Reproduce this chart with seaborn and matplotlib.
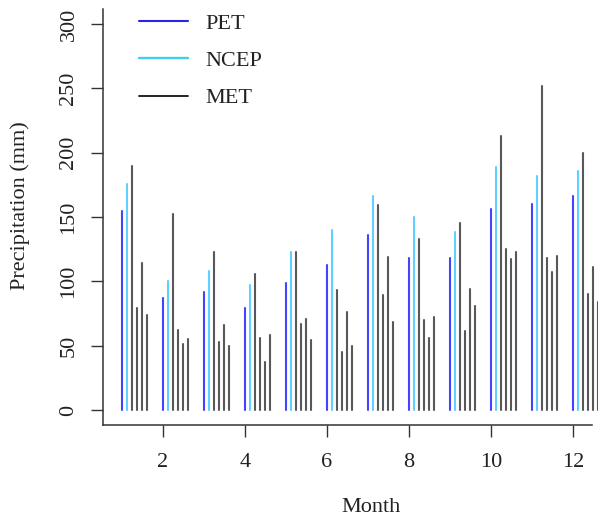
import numpy as np
import pandas as pd
import matplotlib
matplotlib.use("Agg")
import matplotlib.pyplot as plt
import seaborn as sns
from matplotlib.lines import Line2D

months = list(range(1, 13))
PET = [155, 87, 92, 79, 99, 113, 136, 118, 118, 156, 160, 166]
NCEP = [176, 100, 108, 97, 123, 140, 166, 150, 138, 189, 182, 186]
MET1 = [190, 152, 123, 106, 123, 93, 159, 133, 145, 213, 252, 200]
MET2 = [79, 62, 53, 56, 67, 45, 89, 70, 61, 125, 118, 90]
MET3 = [114, 51, 66, 37, 71, 76, 119, 56, 94, 117, 107, 111]
MET4 = [74, 55, 50, 58, 54, 50, 68, 72, 81, 123, 120, 84]
x_ticks = [2, 4, 6, 8, 10, 12]
y_ticks = [0, 50, 100, 150, 200, 250, 300]

series = {"PET": PET, "NCEP": NCEP, "MET1": MET1, "MET2": MET2,
          "MET3": MET3, "MET4": MET4}
offsets = {"PET": 0.0, "NCEP": 0.125, "MET1": 0.25, "MET2": 0.375,
           "MET3": 0.5, "MET4": 0.625}
colors = {"PET": "#4444ff", "NCEP": "#5fd0ff", "MET1": "#585858",
          "MET2": "#585858", "MET3": "#585858", "MET4": "#585858"}

rows = []
uid = 0
for name, vals in series.items():
    for m, v in zip(months, vals):
        xpos = m + offsets[name]
        rows.append({"x": xpos, "y": 0.0, "series": name, "unit": uid})
        rows.append({"x": xpos, "y": v, "series": name, "unit": uid})
        uid += 1
df = pd.DataFrame(rows)

sns.set_style("white")
plt.rcParams["font.family"] = ["Liberation Serif", "DejaVu Serif"]

W, H = 598, 520
fig = plt.figure(figsize=(W / 100, H / 100), dpi=100)
ax_left, ax_right = 102.9, 612.1
ax_top, ax_bot = 8.6, 425.4
ax = fig.add_axes([ax_left / W, 1 - ax_bot / H, (ax_right - ax_left) / W,
                   (ax_bot - ax_top) / H])

sns.lineplot(data=df, x="x", y="y", hue="series", units="unit",
             estimator=None, sort=False, palette=colors, legend=False,
             linewidth=1.5, ax=ax)

ax.set_xlim(0.54, 12.96)
ax.set_ylim(-12, 312)
ax.set_xticks(x_ticks)
ax.set_yticks(y_ticks)
ax.set_xticklabels([str(t) for t in x_ticks])
ax.set_yticklabels([str(t) for t in y_ticks], rotation=90, va="center")

for s in ["top", "right"]:
    ax.spines[s].set_visible(False)
for s in ["left", "bottom"]:
    ax.spines[s].set_color("#333333")
    ax.spines[s].set_linewidth(1.1)
ax.spines["bottom"].set_bounds(0.54, 12.46)

ax.tick_params(axis="both", which="major", length=8.6, width=1.0,
               color="#333333", labelsize=16, labelcolor="#222222",
               direction="out", bottom=True, left=True)
ax.tick_params(axis="x", pad=11.5)
ax.tick_params(axis="y", pad=9)

ax.set_xlabel("Month", fontsize=16, color="#222222")
ax.set_ylabel("Precipitation (mm)", fontsize=16, color="#222222")
ax.xaxis.label.set_va("center")
ax.yaxis.label.set_va("center")
ax.xaxis.set_label_coords(371 / W, 1 - 507 / H, transform=fig.transFigure)
ax.yaxis.set_label_coords(20 / W, 1 - 206 / H, transform=fig.transFigure)

handles = [Line2D([], [], color="#2a22e6", lw=1.5),
           Line2D([], [], color="#44ccee", lw=1.7),
           Line2D([], [], color="#111111", lw=1.3)]
leg = fig.legend(handles, ["PET", "NCEP", "MET"], loc="upper left",
                 bbox_to_anchor=(139 / W, 1 - 13 / H), frameon=False,
                 fontsize=16, handlelength=2.2, handletextpad=0.8,
                 labelspacing=0.76, borderpad=0, borderaxespad=0)
for t in leg.get_texts():
    t.set_color("#222222")

fig.savefig("out.png", dpi=100)
